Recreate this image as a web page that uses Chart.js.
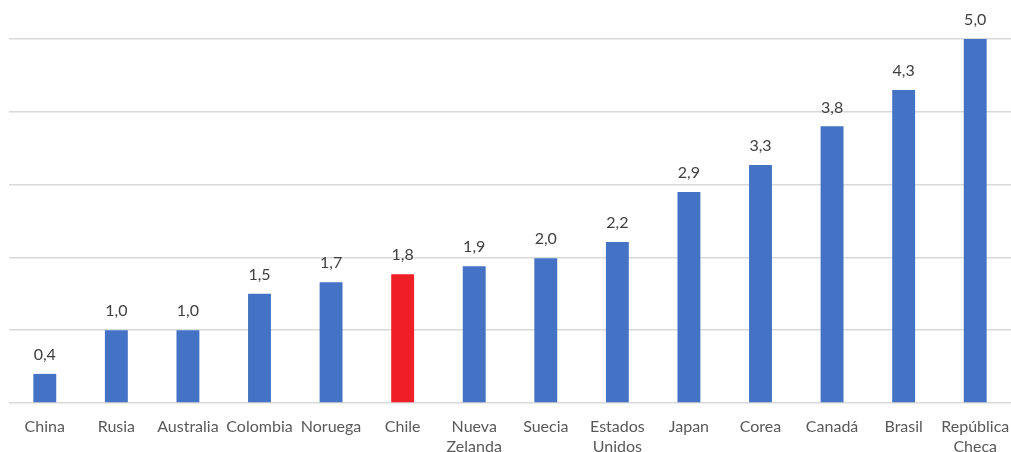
<!DOCTYPE html>
<html>
<head>
<meta charset="utf-8">
<script src="https://cdn.jsdelivr.net/npm/chart.js@4"></script>
<style>
	html, body { margin: 0; padding: 0; background: #fff; }
	#wrap { width: 1011px; height: 452px; }
</style>
</head>
<body>
<div id="wrap"><canvas id="chart"></canvas></div>
<script>
// categories and values
const countries = ["China", "Rusia", "Australia", "Colombia", "Noruega", "Chile",
	["Nueva", "Zelanda"], "Suecia", ["Estados", "Unidos"], "Japan", "Corea",
	"Canadá", "Brasil", ["República", "Checa"]];
const values = [0.4, 1.0, 1.0, 1.5, 1.66, 1.77, 1.88, 1.99, 2.21, 2.9, 3.27, 3.8, 4.3, 5.0];
const highlight = "Chile";
const yTicks = [0, 1, 2, 3, 4, 5];

const BLUE = "#4472C4";
const RED = "#EE1F26";

const colors = countries.map(function (c) {
	return c === highlight ? RED : BLUE;
});

// draw value labels above the bars, "1,8" style
const barLabels = {
	id: "barLabels",
	afterDatasetsDraw(chart) {
		const ctx = chart.ctx;
		const meta = chart.getDatasetMeta(0);
		ctx.save();
		ctx.font = "16px Lato, 'Open Sans', sans-serif";
		ctx.fillStyle = "#404040";
		ctx.textAlign = "center";
		ctx.textBaseline = "bottom";
		meta.data.forEach(function (bar, i) {
			const txt = values[i].toFixed(1).replace(".", ",");
			ctx.fillText(txt, bar.x, bar.y - 11);
		});
		ctx.restore();
	}
};

new Chart(document.getElementById("chart"), {
	type: "bar",
	data: {
		labels: countries,
		datasets: [{
			data: values,
			backgroundColor: colors,
			barPercentage: 0.64,
			categoryPercentage: 0.5
		}]
	},
	options: {
		responsive: true,
		maintainAspectRatio: false,
		animation: false,
		layout: { padding: { top: 39, left: 0, right: 0, bottom: 0 } },
		plugins: {
			legend: { display: false },
			tooltip: { enabled: false }
		},
		scales: {
			x: {
				grid: { display: false },
				border: { display: false },
				afterFit(axis) {
					axis.height = 49;
					axis.paddingLeft = 0;
					axis.paddingRight = 0;
				},
				ticks: {
					color: "#595959",
					font: { family: "Lato, 'Open Sans', sans-serif", size: 16, lineHeight: 1.25 },
					maxRotation: 0,
					autoSkip: false,
					padding: 6
				}
			},
			y: {
				min: 0,
				max: 5,
				afterBuildTicks(axis) {
					axis.ticks = yTicks.map(function (v) { return { value: v }; });
				},
				afterFit(axis) { axis.width = 9; },
				ticks: { display: false },
				border: { display: false },
				grid: { color: "#D9D9D9", lineWidth: 1.5, drawTicks: false }
			}
		}
	},
	plugins: [barLabels]
});
</script>
</body>
</html>
